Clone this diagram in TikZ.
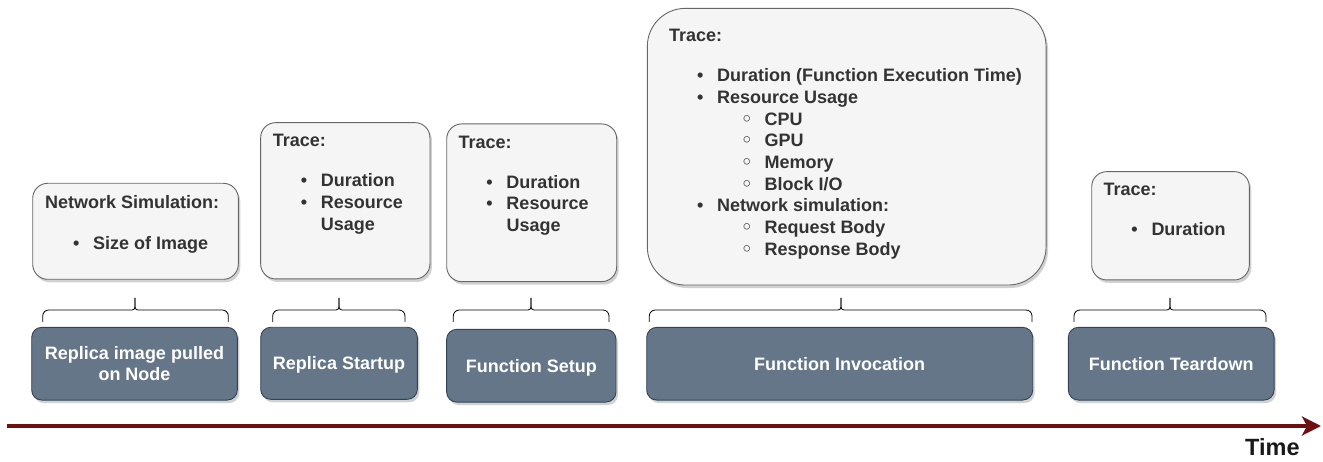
\documentclass[tikz,border=0pt]{standalone}
\usepackage{fontspec}
\setmainfont{Liberation Sans}
\newfontfamily\symfont{DejaVu Sans}
\usetikzlibrary{arrows.meta,shadows}

\definecolor{lightfill}{HTML}{F5F5F5}
\definecolor{lightdraw}{HTML}{666666}
\definecolor{darkfill}{HTML}{647687}
\definecolor{darkdraw}{HTML}{314354}
\definecolor{textgray}{HTML}{333333}
\definecolor{timered}{HTML}{6E1010}

% list helpers: bullet, sub-bullet and continuation indents
\newcommand\bul{\hspace*{31pt}\makebox[0pt][c]{•}\hspace*{17pt}}
\newcommand\sbul{\hspace*{77.7pt}\makebox[0pt][c]{\symfont ◦}\hspace*{17.6pt}}
\newcommand\cont{\hspace*{48pt}}
% curly brace over a phase box: left x, right x, tip x
\newcommand\phasebrace[3]{%
  \draw[bracestyle] (#1,322) [rounded corners=6pt] -- (#1,310)
    [rounded corners=3pt] -- (#3,310) [sharp corners] -- (#3,298);
  \draw[bracestyle] (#2,322) [rounded corners=6pt] -- (#2,310)
    [rounded corners=3pt] -- (#3,310) [sharp corners] -- (#3,298);}

\tikzset{
  lbox/.style={draw=lightdraw, fill=lightfill, line width=0.9pt,
    rounded corners=15pt, inner sep=0pt,
    drop shadow={shadow xshift=2pt, shadow yshift=-3pt, opacity=0.18, fill=black}},
  dbox/.style={draw=darkdraw, fill=darkfill, line width=0.9pt,
    rounded corners=10pt, inner sep=0pt, text=white,
    font=\fontsize{18}{21.7}\selectfont\bfseries, align=center,
    drop shadow={shadow xshift=2pt, shadow yshift=-3pt, opacity=0.18, fill=black}},
  oneline/.style={text height=13pt, text depth=0pt},
  txt/.style={inner sep=0pt, anchor=base west, text=textgray,
    font=\fontsize{18}{21.7}\selectfont\bfseries},
  bracestyle/.style={draw=black, line width=0.8pt},
}

\begin{document}
\begin{tikzpicture}[x=1pt,y=-1pt]
\useasboundingbox (0,0) rectangle (1323,462);

% trace / simulation boxes
\node[lbox, minimum width=205.6pt, minimum height=96pt] (l1) at (135.5,231.3) {};
\node[lbox, minimum width=169.3pt, minimum height=156.3pt] (l2) at (345.3,200.8) {};
\node[lbox, minimum width=170pt, minimum height=157.7pt] (l3) at (531.7,202.8) {};
\node[lbox, rounded corners=38pt, minimum width=398.7pt, minimum height=276.7pt] (l4) at (846.7,146.7) {};
\node[lbox, minimum width=157.6pt, minimum height=108.3pt] (l5) at (1170.5,225.8) {};

% box contents
\node[txt] (t1) at (45,208.3) {\begin{tabular}[t]{@{}l@{}}
  Network Simulation:\\[19.3pt]
  \bul Size of Image
\end{tabular}};
\node[txt] (t2) at (272.7,147) {\begin{tabular}[t]{@{}l@{}}
  Trace:\\[18.3pt]
  \bul Duration\\
  \bul Resource\\
  \cont Usage
\end{tabular}};
\node[txt] (t3) at (458.3,148.3) {\begin{tabular}[t]{@{}l@{}}
  Trace:\\[18.3pt]
  \bul Duration\\
  \bul Resource\\
  \cont Usage
\end{tabular}};
\node[txt] (t4) at (669,41.7) {\begin{tabular}[t]{@{}l@{}}
  Trace:\\[18.3pt]
  \bul Duration (Function Execution Time)\\
  \bul Resource Usage\\
  \sbul CPU\\
  \sbul GPU\\
  \sbul Memory\\
  \sbul Block I/O\\
  \bul Network simulation:\\
  \sbul Request Body\\
  \sbul Response Body
\end{tabular}};
\node[txt] (t5) at (1103.3,196) {\begin{tabular}[t]{@{}l@{}}
  Trace:\\[18.3pt]
  \bul Duration
\end{tabular}};

% braces
\phasebrace{42.7}{228.3}{135}
\phasebrace{272.7}{405}{339}
\phasebrace{453.3}{609}{531}
\phasebrace{649.3}{1032}{841}
\phasebrace{1074}{1266}{1170}

% phase boxes
\node[dbox, minimum width=205.6pt, minimum height=72.7pt] (d1) at (134.5,363.7) {Replica image pulled\\on Node};
\node[dbox, oneline, minimum width=156.6pt, minimum height=72pt] (d2) at (339,363.3) {Replica Startup};
\node[dbox, oneline, minimum width=169.3pt, minimum height=72.7pt] (d3) at (531.3,365.7) {Function Setup};
\node[dbox, oneline, minimum width=386pt, minimum height=72.7pt] (d4) at (839.7,363.7) {Function Invocation};
\node[dbox, oneline, minimum width=205.7pt, minimum height=72.7pt] (d5) at (1171.2,363.7) {Function Teardown};

% time axis
\coordinate (tstart) at (7,426);
\coordinate (tend) at (1321,426);
\draw[timered, line width=4pt, -{Stealth[length=19pt, width=19pt, inset=5pt]}] (tstart) -- (tend);
\node[inner sep=0pt, anchor=base west, text=black!90, font=\fontsize{23.5}{28}\selectfont\bfseries] (time) at (1245,455) {Time};
\end{tikzpicture}
\end{document}
